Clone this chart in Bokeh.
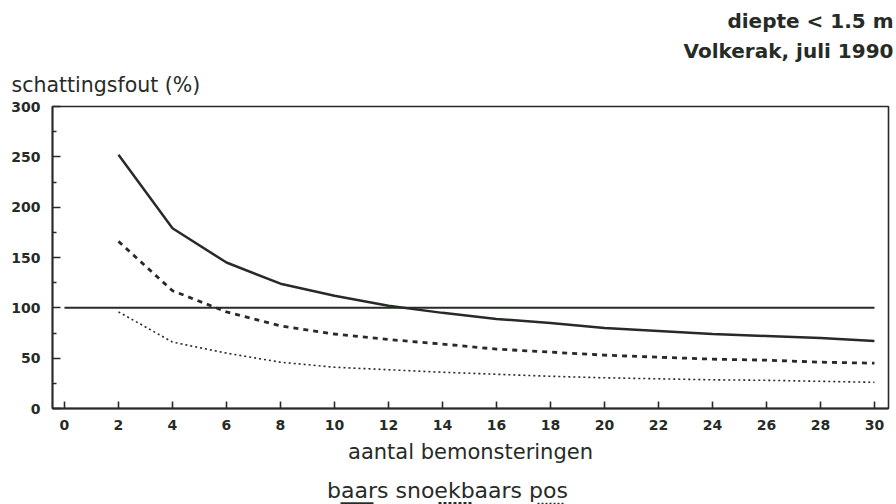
from bokeh.plotting import figure
from bokeh.layouts import column
from bokeh.models import Range1d, FixedTicker
from bokeh.core.properties import value
from bokeh.embed import file_html
from bokeh.resources import INLINE

# sampling effort vs. estimation error (%)
n_samples = [2, 4, 6, 8, 10, 12, 14, 16, 18, 20, 22, 24, 26, 28, 30]
baars = [252, 179, 145, 124, 112, 102, 95, 89, 85, 80, 77, 74, 72, 70, 67]
snoekbaars = [166, 117, 96, 82, 74, 68.5, 64, 59, 56, 53, 51, 49, 48, 46, 45]
pos = [96, 66, 55, 46, 41, 38.5, 36, 34, 32, 30.5, 29.5, 28.5, 28, 27, 26]

ref_x = [0, 30]
ref_y = [100, 100]

x_ticks = list(range(0, 31, 2))
y_ticks = [0, 50, 100, 150, 200, 250, 300]
y_minor = [25, 75, 125, 175, 225, 275]

INK = "#262b26"
FONT = "DejaVu Sans"
W = 896


def strip(height):
    """A bare pixel-space figure used for text above and below the chart."""
    f = figure(width=W, height=height, output_backend="svg", toolbar_location=None,
               x_range=Range1d(0, W), y_range=Range1d(0, height),
               x_axis_location=None, y_axis_location=None,
               min_border=0, min_border_left=0, min_border_right=0,
               min_border_top=0, min_border_bottom=0, frame_align=False)
    f.grid.visible = False
    f.outline_line_color = None
    f.background_fill_color = "white"
    f.border_fill_color = "white"
    return f


# header: subtitle lines and the y-axis caption
head = strip(96)
head.text(x=[893, 893], y=[76, 46], text=["diepte < 1.5 m", "Volkerak, juli 1990"],
          text_font=value(FONT), text_font_size="20px", text_font_style="bold",
          text_color=INK, text_align="right", text_baseline="middle")
head.text(x=[11], y=[12], text=["schattingsfout (%)"], text_font=value(FONT),
          text_font_size="20.5px", text_color=INK, text_align="left",
          text_baseline="middle")

# main chart
p = figure(width=W, height=374, output_backend="svg", toolbar_location=None,
           x_range=Range1d(-0.444, 30.52), y_range=Range1d(0, 300),
           min_border_left=52, min_border_right=8, min_border_top=10,
           min_border_bottom=62, frame_align=False)
p.background_fill_color = "white"
p.border_fill_color = "white"
p.grid.visible = False
p.outline_line_color = INK
p.outline_line_width = 1.6

for ax in (p.xaxis[0], p.yaxis[0]):
    ax.axis_line_color = INK
    ax.axis_line_width = 1.8
    ax.major_tick_line_color = INK
    ax.major_tick_line_width = 1.6
    ax.major_label_text_font = FONT
    ax.major_label_text_font_style = "bold"
    ax.major_label_text_font_size = "14px"
    ax.major_label_text_color = INK
    ax.major_tick_out = 0

p.xaxis.ticker = FixedTicker(ticks=x_ticks)
p.xaxis.major_tick_in = 7
p.xaxis.minor_tick_line_color = None
p.xaxis.major_label_standoff = 11
p.xaxis.axis_label = "aantal bemonsteringen"
p.xaxis.axis_label_text_font = FONT
p.xaxis.axis_label_text_font_style = "normal"
p.xaxis.axis_label_text_font_size = "21px"
p.xaxis.axis_label_text_color = INK
p.xaxis.axis_label_standoff = 7

p.yaxis.ticker = FixedTicker(ticks=y_ticks, minor_ticks=y_minor)
p.yaxis.major_tick_in = 8
p.yaxis.minor_tick_in = 4
p.yaxis.minor_tick_out = 0
p.yaxis.minor_tick_line_color = INK
p.yaxis.minor_tick_line_width = 1.4
p.yaxis.major_label_standoff = 12

p.line(ref_x, ref_y, line_color=INK, line_width=2)
p.line(n_samples, baars, line_color=INK, line_width=2.5)
p.line(n_samples, snoekbaars, line_color=INK, line_width=2.8, line_dash="5 5")
p.line(n_samples, pos, line_color=INK, line_width=1.6, line_dash="2 3")

# footer: series names with their line samples
foot = strip(34)
foot.text(x=[447], y=[14], text=["baars snoekbaars pos"], text_font=value(FONT),
          text_font_size="22px", text_color=INK, text_align="center",
          text_baseline="middle")
foot.line([340, 373], [1, 1], line_color=INK, line_width=2.4)
foot.line([438, 471], [1, 1], line_color=INK, line_width=2.8, line_dash="3 2")
foot.line([537, 564], [1, 1], line_color=INK, line_width=1.6, line_dash="2 2")

layout = column(head, p, foot, spacing=0)
open("out.html", "w").write(file_html(layout, INLINE))
